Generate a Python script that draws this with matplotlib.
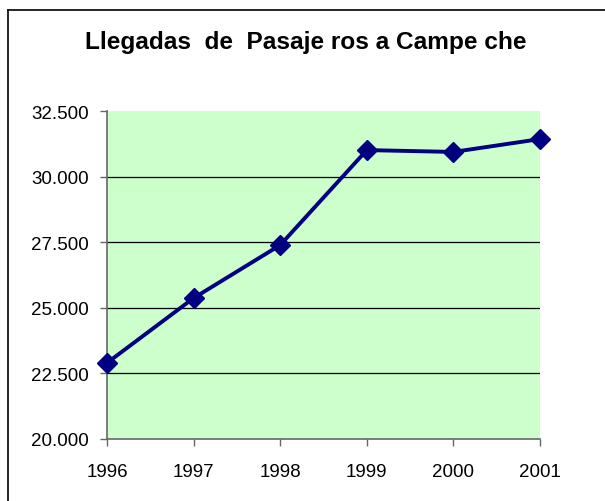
import matplotlib.pyplot as plt
from matplotlib.lines import Line2D
from matplotlib.ticker import FuncFormatter

years = [1996, 1997, 1998, 1999, 2000, 2001]
llegadas = [22900, 25370, 27390, 31010, 30940, 31430]
title = 'Llegadas  de  Pasaje ros a Campe che'

W, H = 605, 502
fig = plt.figure(figsize=(W / 100, H / 100), dpi=100)
plt.rcParams['font.family'] = ['Liberation Sans', 'DejaVu Sans']

# chart frame (only top and left edges fall inside the picture)
fig.add_artist(Line2D([7.5 / W, 7.5 / W], [0, 1 - 11 / H], color='black', lw=1.2))
fig.add_artist(Line2D([7.5 / W, 1], [1 - 11 / H, 1 - 11 / H], color='black', lw=1.2))

ax = fig.add_axes([107 / W, 62 / H, 433 / W, 328 / H])
ax.set_facecolor('#ccffcc')
ax.plot(years, llegadas, color='#000080', lw=2.8, marker='D', ms=10,
        markerfacecolor='#000080', markeredgecolor='#000080', clip_on=False, zorder=3)

ax.set_xlim(years[0], years[-1])
ax.set_ylim(20000, 32500)
ax.set_xticks(years)
ax.set_yticks(range(20000, 32501, 2500))
ax.yaxis.set_major_formatter(FuncFormatter(lambda v, p: f'{int(v):,}'.replace(',', '.')))

# gridlines only between the axis and the top of the plot area
for v in ax.get_yticks()[1:-1]:
  ax.axhline(v, color='black', lw=0.9, zorder=1)

for s in ['top', 'right']:
  ax.spines[s].set_visible(False)
for s in ['left', 'bottom']:
  ax.spines[s].set_color('#666666')
  ax.spines[s].set_linewidth(1.2)

ax.tick_params(axis='both', direction='out', length=5, width=1, color='#666666',
               labelsize=13.5)
ax.tick_params(axis='y', pad=8)
ax.tick_params(axis='x', pad=12)

fig.text(306 / W, 1 - 42 / H, title, ha='center', va='center', fontsize=17.6, fontweight='bold')

fig.savefig('out.png', dpi=100)
